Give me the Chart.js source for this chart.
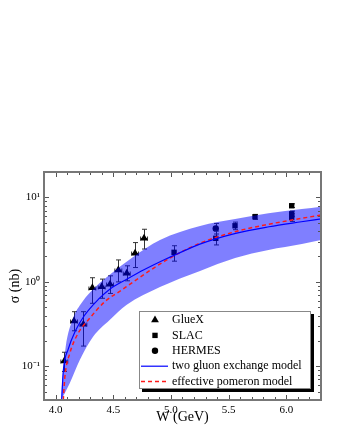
<!DOCTYPE html>
<html>
<head>
<meta charset="utf-8">
<script src="https://cdn.jsdelivr.net/npm/chart.js@4/dist/chart.umd.min.js"></script>
<style>
  html, body { margin: 0; padding: 0; background: #fff; }
</style>
</head>
<body>
<canvas id="xsChart" width="340" height="440"></canvas>
<script>
// axis ticks
const xTickValues = [4.0, 4.5, 5.0, 5.5, 6.0];
const xTickLabels = ['4.0', '4.5', '5.0', '5.5', '6.0'];
const yTickValues = [0.1, 1, 10];
const yTickLabels = ['10\u207B\u00B9', '10\u2070', '10\u00B9'];

// GlueX points (W, sigma, error low / high)
const gluexW  = [4.076, 4.160, 4.241, 4.319, 4.400, 4.472, 4.544, 4.617, 4.689, 4.767];
const gluexXs = [0.116, 0.344, 0.315, 0.853, 0.877, 0.937, 1.38, 1.27, 2.18, 3.28];
const gluexLo = [0.087, 0.264, 0.174, 0.558, 0.64, 0.73, 1.0, 1.03, 1.48, 2.45];
const gluexHi = [0.147, 0.444, 0.444, 1.12, 1.08, 1.18, 1.82, 1.55, 2.92, 4.2];
const gluexDW = 0.03;

// SLAC points
const slacW  = [5.027, 5.388, 5.555, 5.728, 6.046, 6.046, 6.046];
const slacXs = [2.24, 3.28, 4.62, 5.9, 7.97, 6.4, 5.8];
const slacLo = [1.76, 2.74, 4.15, 5.5, 7.6, 5.9, 5.2];
const slacHi = [2.68, 4.0, 5.1, 6.3, 8.4, 6.9, 6.4];

// HERMES point
const hermesW  = [5.388];
const hermesXs = [4.3];
const hermesLo = [3.69];
const hermesHi = [4.92];

// two gluon exchange model (blue)
const gluonW  = [4.053, 4.067, 4.11, 4.17, 4.25, 4.37, 4.47, 4.62, 4.77, 4.96, 5.04, 5.25, 5.56, 5.85, 6.13, 6.3];
const gluonXs = [0.04, 0.088, 0.16, 0.26, 0.40, 0.62, 0.82, 1.08, 1.40, 1.88, 2.1, 2.8, 3.76, 4.5, 5.15, 5.57];

// effective pomeron model (red dashed)
const pomW  = [4.067, 4.081, 4.124, 4.196, 4.283, 4.427, 4.572, 4.673, 4.963, 5.252, 5.556, 5.845, 6.134, 6.3];
const pomXs = [0.04, 0.0755, 0.143, 0.247, 0.354, 0.583, 0.80, 1.0, 1.82, 2.87, 3.93, 4.81, 5.66, 6.19];

// uncertainty band edges
const bandUpW  = [4.045, 4.059, 4.088, 4.146, 4.233, 4.348, 4.464, 4.66, 4.905, 5.252, 5.556, 5.845, 6.134, 6.3];
const bandUpXs = [0.04, 0.069, 0.171, 0.354, 0.583, 0.877, 1.2, 1.92, 3.13, 4.59, 5.55, 6.49, 7.29, 7.76];
const bandLoW  = [4.05, 4.123, 4.21, 4.325, 4.469, 4.614, 4.905, 5.252, 5.556, 5.845, 6.134, 6.3];
const bandLoXs = [0.04, 0.063, 0.119, 0.224, 0.354, 0.533, 0.871, 1.35, 1.92, 2.39, 2.81, 3.13];

const pts = (ws, vs) => ws.map((w, i) => ({x: w, y: vs[i]}));

Chart.defaults.font.family = '"Liberation Serif", "Times New Roman", serif';
Chart.defaults.color = '#000';

// error bars, drawn under the markers (and under the band)
const errorBars = {
	id: 'errorBars',
	beforeDatasetDraw(chart, args) {
		const ds = chart.data.datasets[args.index];
		if (!ds.errLo) return;
		const {ctx, chartArea: a, scales: {x, y}} = chart;
		ctx.save();
		ctx.beginPath();
		ctx.rect(a.left, a.top, a.width, a.height);
		ctx.clip();
		ctx.strokeStyle = ds.errColor;
		ctx.lineWidth = 1;
		ctx.beginPath();
		ds.data.forEach((p, i) => {
			const px = Math.round(x.getPixelForValue(p.x)) + 0.5;
			const py = Math.round(y.getPixelForValue(p.y)) + 0.5;
			const lo = y.getPixelForValue(ds.errLo[i]);
			const hi = y.getPixelForValue(ds.errHi[i]);
			ctx.moveTo(px, lo); ctx.lineTo(px, hi);
			ctx.moveTo(px - 2.5, lo); ctx.lineTo(px + 2.5, lo);
			ctx.moveTo(px - 2.5, hi); ctx.lineTo(px + 2.5, hi);
			if (ds.errW) {
				const l = x.getPixelForValue(p.x - ds.errW);
				const r = x.getPixelForValue(p.x + ds.errW);
				ctx.moveTo(l, py); ctx.lineTo(r, py);
				ctx.moveTo(l, py - 2); ctx.lineTo(l, py + 2);
				ctx.moveTo(r, py - 2); ctx.lineTo(r, py + 2);
			}
		});
		ctx.stroke();
		ctx.restore();
	}
};

// frame with inward ticks on all four sides
const frameTicks = {
	id: 'frameTicks',
	afterDatasetsDraw(chart) {
		const {ctx, chartArea: a, scales: {x, y}} = chart;
		ctx.save();
		ctx.strokeStyle = '#555';
		ctx.lineWidth = 1;
		ctx.beginPath();
		for (let i = 39; i <= 63; i++) {
			const px = Math.round(x.getPixelForValue(i / 10)) + 0.5;
			const len = i % 5 === 0 ? 5 : 3;
			ctx.moveTo(px, a.bottom); ctx.lineTo(px, a.bottom - len);
			ctx.moveTo(px, a.top); ctx.lineTo(px, a.top + len);
		}
		for (let e = -2; e <= 1; e++) {
			for (let k = 1; k <= 9; k++) {
				const v = k * Math.pow(10, e);
				if (v <= y.min || v >= y.max) continue;
				const py = Math.round(y.getPixelForValue(v)) + 0.5;
				const len = k === 1 ? 5 : 3;
				ctx.moveTo(a.left, py); ctx.lineTo(a.left + len, py);
				ctx.moveTo(a.right, py); ctx.lineTo(a.right - len, py);
			}
		}
		ctx.stroke();
		ctx.strokeStyle = '#777';
		ctx.lineWidth = 2;
		ctx.strokeRect(a.left, a.top, a.width, a.height);
		ctx.restore();
	}
};

// boxed legend with drop shadow inside the plot
const legendBox = {
	id: 'legendBox',
	afterDraw(chart) {
		const {ctx, chartArea: a} = chart;
		const bx = a.left + 95, by = a.top + 139, bw = 172, bh = 78;
		ctx.save();
		ctx.fillStyle = '#000';
		ctx.fillRect(bx + 3, by + 3, bw, bh);
		ctx.fillStyle = '#fff';
		ctx.fillRect(bx, by, bw, bh);
		ctx.strokeStyle = '#888';
		ctx.lineWidth = 1;
		ctx.strokeRect(bx + 0.5, by + 0.5, bw - 1, bh - 1);
		ctx.font = '12px "Liberation Serif", "Times New Roman", serif';
		ctx.textBaseline = 'middle';
		let row = 0;
		chart.data.datasets.forEach(ds => {
			if (!ds.label) return;
			const cy = by + 9 + row * 15.4;
			if (ds.showLine === false) {
				ctx.fillStyle = '#000';
				Chart.helpers.drawPoint(ctx, {pointStyle: ds.pointStyle, radius: ds.pointRadius, rotation: 0, borderWidth: 0}, bx + 16, cy);
			} else {
				ctx.strokeStyle = ds.borderColor;
				ctx.lineWidth = ds.borderWidth;
				ctx.setLineDash(ds.borderDash || []);
				ctx.beginPath();
				ctx.moveTo(bx + 2, cy); ctx.lineTo(bx + 29, cy);
				ctx.stroke();
				ctx.setLineDash([]);
			}
			ctx.fillStyle = '#000';
			ctx.fillText(ds.label, bx + 33, cy);
			row++;
		});
		ctx.restore();
	}
};

const xsChart = new Chart(document.getElementById('xsChart'), {
	type: 'line',
	data: {
		datasets: [
			{
				label: 'GlueX',
				data: pts(gluexW, gluexXs),
				showLine: false,
				pointStyle: 'triangle',
				pointRadius: 4.5,
				pointBackgroundColor: '#000',
				pointBorderWidth: 0,
				errLo: gluexLo, errHi: gluexHi, errW: gluexDW, errColor: '#333',
				order: 3
			},
			{
				label: 'SLAC',
				data: pts(slacW, slacXs),
				showLine: false,
				pointStyle: 'rect',
				pointRadius: 3.8,
				pointBackgroundColor: '#000',
				pointBorderWidth: 0,
				errLo: slacLo, errHi: slacHi, errColor: '#333',
				order: 3
			},
			{
				label: 'HERMES',
				data: pts(hermesW, hermesXs),
				showLine: false,
				pointStyle: 'circle',
				pointRadius: 3.2,
				pointBackgroundColor: '#000',
				pointBorderWidth: 0,
				errLo: hermesLo, errHi: hermesHi, errColor: '#333',
				order: 3
			},
			{
				label: 'two gluon exchange model',
				data: pts(gluonW, gluonXs),
				borderColor: '#0000ff',
				borderWidth: 1.2,
				pointRadius: 0,
				order: 1
			},
			{
				label: 'effective pomeron model',
				data: pts(pomW, pomXs),
				borderColor: '#ff1a1a',
				borderWidth: 1.5,
				borderDash: [4, 3],
				pointRadius: 0,
				order: 1
			},
			/** band edges */
			{
				data: pts(bandLoW, bandLoXs),
				borderWidth: 0,
				pointRadius: 0,
				fill: false,
				order: 2
			},
			{
				data: pts(bandUpW, bandUpXs),
				borderWidth: 0,
				pointRadius: 0,
				fill: '-1',
				backgroundColor: 'rgba(0, 0, 255, 0.5)',
				order: 2
			}
		]
	},
	options: {
		responsive: false,
		animation: false,
		layout: {padding: {left: 7, right: 19, top: 172, bottom: 14}},
		elements: {line: {cubicInterpolationMode: 'monotone'}},
		plugins: {
			legend: {display: false},
			tooltip: {enabled: false}
		},
		scales: {
			x: {
				type: 'linear',
				min: 3.9,
				max: 6.3,
				grid: {display: false, drawTicks: false},
				border: {display: false},
				afterBuildTicks: s => { s.ticks = xTickValues.map(v => ({value: v})); },
				ticks: {
					padding: 4,
					autoSkip: false,
					maxRotation: 0,
					font: {size: 11},
					callback: (v, i) => xTickLabels[i]
				},
				title: {display: true, text: 'W (GeV)', font: {size: 14}, padding: 0},
				afterFit: s => { s.height = 26; }
			},
			y: {
				type: 'logarithmic',
				min: 0.04,
				max: 20,
				grid: {display: false, drawTicks: false},
				border: {display: false},
				afterBuildTicks: s => { s.ticks = yTickValues.map(v => ({value: v})); },
				ticks: {
					padding: 4,
					autoSkip: false,
					font: {size: 11},
					callback: (v, i) => yTickLabels[i]
				},
				title: {display: true, text: '\u03C3 (nb)', font: {size: 14}, padding: 0},
				afterFit: s => { s.width = 37; }
			}
		}
	},
	plugins: [errorBars, frameTicks, legendBox]
});
</script>
</body>
</html>
